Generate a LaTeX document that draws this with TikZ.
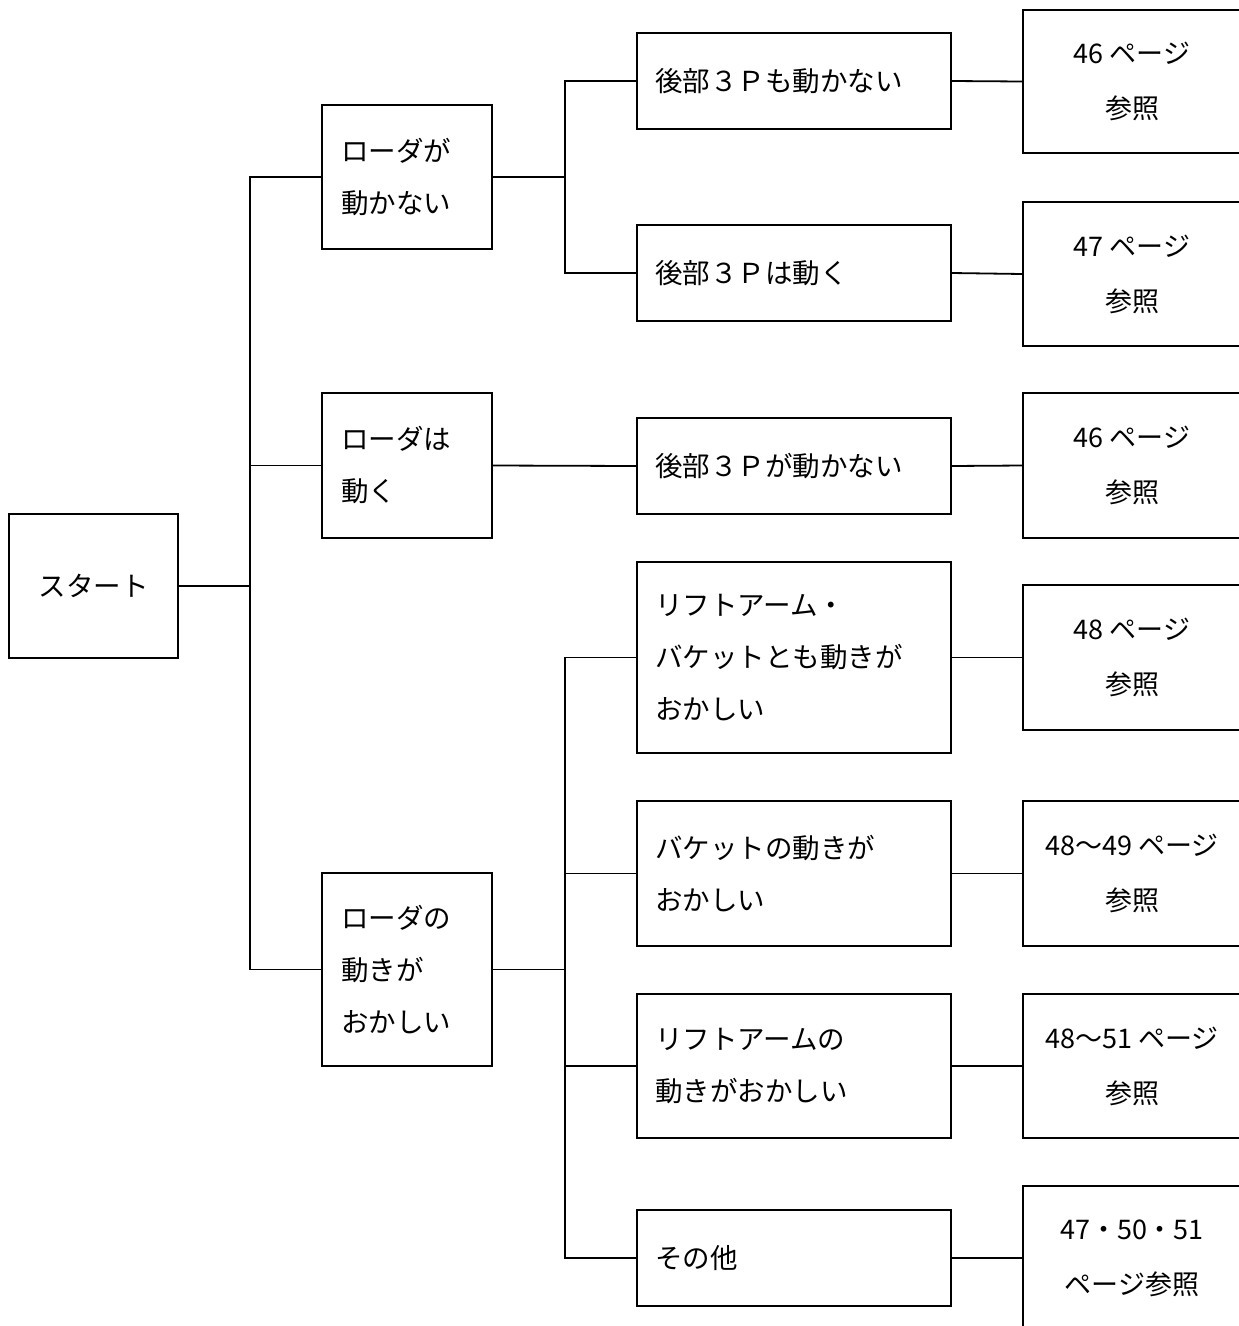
\documentclass[tikz,border=0pt]{standalone}
\usepackage{fontspec}
\setmainfont{Noto Sans CJK JP}
\begin{document}
\begin{tikzpicture}[x=1pt,y=-1pt,
  box/.style={draw=black,line width=1.8pt,inner sep=0pt,font=\fontsize{27.5}{52}\selectfont},
  lbox/.style={box,minimum width=170pt,inner xsep=19pt,text width=132pt,align=left},
  mbox/.style={box,minimum width=314pt,inner xsep=18pt,text width=278pt,align=left},
  rbox/.style={box,minimum width=218pt,align=center,font=\fontsize{27}{55}\selectfont},
  conn/.style={line width=1.8pt}]
\useasboundingbox (0,0) rectangle (1239,1326);
% start
\node[box,minimum width=169pt,minimum height=144pt] (start) at (93.5,586) {スタート};
% level 1
\node[lbox,minimum height=144pt] (a1) at (407,177) {ローダが\\動かない};
\node[lbox,minimum height=145pt] (a2) at (407,465.5) {ローダは\\動く};
\node[lbox,minimum height=193pt] (a3) at (407,969.5) {ローダの\\動きが\\おかしい};
% level 2
\node[mbox,minimum height=96pt] (b1) at (794,81) {後部３Ｐも動かない};
\node[mbox,minimum height=96pt] (b2) at (794,273) {後部３Ｐは動く};
\node[mbox,minimum height=96pt] (b3) at (794,466) {後部３Ｐが動かない};
\node[mbox,minimum height=191pt] (b4) at (794,657.5) {リフトアーム・\\バケットとも動きが\\おかしい};
\node[mbox,minimum height=145pt] (b5) at (794,873.5) {バケットの動きが\\おかしい};
\node[mbox,minimum height=144pt] (b6) at (794,1066) {リフトアームの\\動きがおかしい};
\node[mbox,minimum height=96pt] (b7) at (794,1258) {その他};
% level 3
\node[rbox,minimum height=143pt] (c1) at (1132,81.5) {46 ページ\\参照};
\node[rbox,minimum height=144pt] (c2) at (1132,274) {47 ページ\\参照};
\node[rbox,minimum height=145pt] (c3) at (1132,465.5) {46 ページ\\参照};
\node[rbox,minimum height=145pt] (c4) at (1132,657.5) {48 ページ\\参照};
\node[rbox,minimum height=145pt] (c5) at (1132,873.5) {48〜49 ページ\\参照};
\node[rbox,minimum height=144pt] (c6) at (1132,1066) {48〜51 ページ\\参照};
\node[rbox,minimum height=144pt] (c7) at (1132,1258) {47・50・51\\ページ参照};
% junctions
\coordinate (j1) at (250,586);
\coordinate (j2) at (565,177);
\coordinate (j3) at (565,969.5);
% connectors
\draw[conn] (start.east) -- (j1);
\draw[conn] (a1.west) -| (j1);
\draw[conn] (a3.west) -| (j1);
\draw[conn] (a2.west) -- (a2.west -| j1);
\draw[conn] (a1.east) -- (j2);
\draw[conn] (b1.west) -| (j2);
\draw[conn] (b2.west) -| (j2);
\draw[conn] (a2.east) -- (b3.west);
\draw[conn] (a3.east) -- (j3);
\draw[conn] (b4.west) -| (j3);
\draw[conn] (b7.west) -| (j3);
\draw[conn] (b5.west) -- (b5.west -| j3);
\draw[conn] (b6.west) -- (b6.west -| j3);
\foreach \i in {1,...,7} \draw[conn] (b\i.east) -- (c\i.west);
\end{tikzpicture}
\end{document}
